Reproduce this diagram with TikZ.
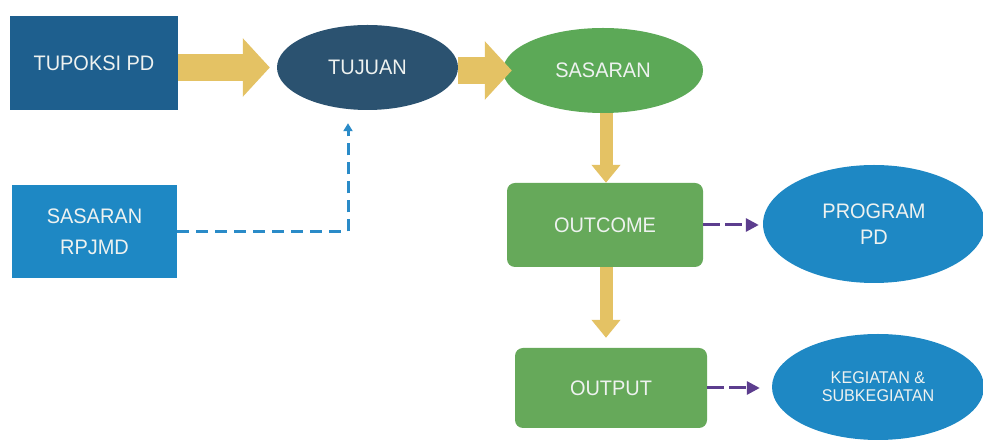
\documentclass[tikz,border=0pt]{standalone}
\usepackage{fontspec}
\setmainfont{Liberation Sans}[FakeStretch=0.95]
\usetikzlibrary{shapes.geometric,arrows.meta}
\definecolor{dkblue}{HTML}{1E5F8E}
\definecolor{navy}{HTML}{2B5270}
\definecolor{midblue}{HTML}{1E88C4}
\definecolor{grn}{HTML}{5CA957}
\definecolor{grnbox}{HTML}{66A95A}
\definecolor{yel}{HTML}{E4C264}
\definecolor{purp}{HTML}{5C3D8E}
\definecolor{bdashc}{HTML}{2A8BC8}
\definecolor{txt}{HTML}{EEF2F0}
\tikzset{
  base/.style={text=txt, inner sep=0pt, align=center, font=\fontsize{21}{26}\selectfont},
  sqbox/.style={base, rectangle},
  rbox/.style={base, rectangle, rounded corners=8pt, fill=grnbox},
  oval/.style={base, ellipse},
  yarr/.style={draw=yel, line width=27pt, -{Triangle[length=27pt, width=57pt]}},
  yarrs/.style={draw=yel, line width=13pt, -{Triangle[length=18pt, width=28pt]}},
  bdash/.style={draw=bdashc, line width=3pt, dash pattern=on 12pt off 7pt, -{Triangle[length=8pt, width=9pt]}},
  pdash/.style={draw=purp, line width=3pt, dash pattern=on 17pt off 5pt, -{Triangle[length=13pt, width=13pt]}}
}
\begin{document}
\begin{tikzpicture}[x=1pt,y=1pt]
\useasboundingbox[fill=white] (0,0) rectangle (983,441);
\node[sqbox, fill=dkblue, minimum width=168pt, minimum height=94pt] (tup) at (94,378) {TUPOKSI PD};
\node[sqbox, fill=midblue, minimum width=165pt, minimum height=93pt, font=\fontsize{21}{31}\selectfont] (rpj) at (94.5,209.5) {SASARAN\\RPJMD};
\node[oval, fill=navy, minimum width=181pt, minimum height=85pt] (tuj) at (367.5,373.5) {TUJUAN};
\node[oval, fill=grn, minimum width=200pt, minimum height=85pt] (sas) at (603,370.5) {SASARAN};
\node[rbox, minimum width=196pt, minimum height=84pt] (outc) at (605,216) {OUTCOME};
\node[rbox, minimum width=192pt, minimum height=80pt] (outp) at (611,53) {OUTPUT};
\node[oval, fill=midblue, minimum width=222pt, minimum height=118pt] (prog) at (874,217) {PROGRAM\\PD};
\node[oval, fill=midblue, minimum width=212pt, minimum height=106pt, font=\fontsize{17}{18}\selectfont] (keg) at (878,54) {KEGIATAN \&\\SUBKEGIATAN};
% helper coordinates
\path (tup.east |- tuj.center) coordinate (a1s);
\path ([xshift=-7pt]tuj.west) coordinate (a1e);
\path (tuj.east |- sas.west) coordinate (a2s);
\path ([xshift=9pt]sas.west) coordinate (a2e);
\path ([xshift=3pt]sas.south) coordinate (d1s);
\path (d1s |- outc.north) coordinate (d1e);
\path ([xshift=1pt]outc.south) coordinate (d2s);
\path (d2s |- outp.north) coordinate (d2x);
\path ([yshift=10pt]d2x) coordinate (d2e);
\path ([xshift=-19.5pt,yshift=-13pt]tuj.south) coordinate (bt);
\path (outc.east -| prog.west) coordinate (p1x);
\path ([xshift=-4pt]p1x) coordinate (p1e);
\path (outp.east -| keg.west) coordinate (p2x);
\path ([xshift=-12pt]p2x) coordinate (p2e);
% connectors
\draw[yarr] (a1s) -- (a1e);
\draw[yarr] (a2s) -- (a2e);
\draw[yarrs] (d1s) -- (d1e);
\draw[yarrs] (d2s) -- (d2e);
\draw[bdash] (rpj.east) -| (bt);
\draw[pdash] (outc.east) -- (p1e);
\draw[pdash] (outp.east) -- (p2e);
\end{tikzpicture}
\end{document}
